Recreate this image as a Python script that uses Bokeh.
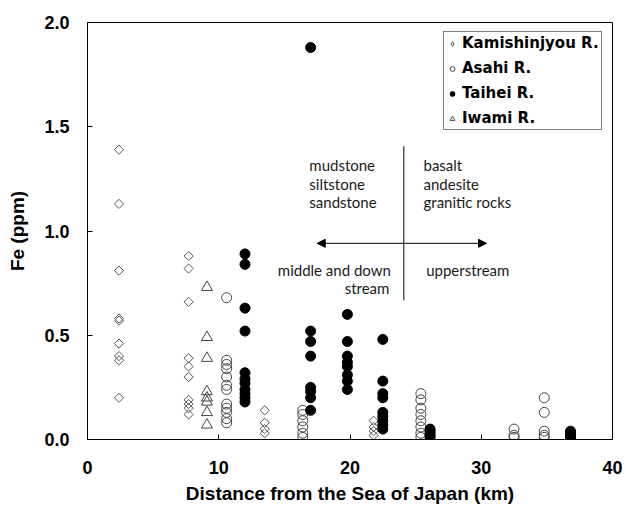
from bokeh.plotting import figure
from bokeh.models import Range1d, FixedTicker, NumeralTickFormatter, Legend, LegendItem, Arrow, NormalHead
from bokeh.core.properties import value
from bokeh.embed import file_html
from bokeh.resources import INLINE
import math

# ---- data ----
kami_x = [2.4, 2.4, 2.4, 2.4, 2.4, 2.4, 2.4, 2.4, 2.4,
          7.7, 7.7, 7.7, 7.7, 7.7, 7.7, 7.7, 7.7, 7.7, 7.7,
          13.5, 13.5, 13.5, 13.5,
          21.8, 21.8, 21.8, 21.8]
kami_y = [1.39, 1.13, 0.81, 0.58, 0.57, 0.46, 0.40, 0.38, 0.20,
          0.88, 0.82, 0.66, 0.39, 0.35, 0.30, 0.19, 0.17, 0.15, 0.12,
          0.14, 0.08, 0.05, 0.03,
          0.09, 0.06, 0.04, 0.02]

asahi_x = [10.6, 10.6, 10.6, 10.6, 10.6, 10.6, 10.6, 10.6, 10.6, 10.6, 10.6, 10.6,
           16.4, 16.4, 16.4, 16.4, 16.4, 16.4,
           25.4, 25.4, 25.4, 25.4, 25.4, 25.4, 25.4, 25.4,
           32.5, 32.5, 32.5,
           34.8, 34.8, 34.8, 34.8, 34.8]
asahi_y = [0.68, 0.38, 0.36, 0.34, 0.30, 0.26, 0.24, 0.17, 0.15, 0.13, 0.10, 0.08,
           0.14, 0.12, 0.09, 0.06, 0.03, 0.01,
           0.22, 0.19, 0.15, 0.12, 0.09, 0.06, 0.03, 0.01,
           0.05, 0.02, 0.01,
           0.20, 0.13, 0.04, 0.02, 0.01]

taihei_x = [12.0, 12.0, 12.0, 12.0, 12.0, 12.0, 12.0, 12.0, 12.0, 12.0, 12.0,
            17.0,
            17.0, 17.0, 17.0, 17.0, 17.0, 17.0, 17.0,
            19.8, 19.8, 19.8, 19.8, 19.8, 19.8, 19.8, 19.8,
            22.5, 22.5, 22.5, 22.5, 22.5, 22.5, 22.5, 22.5, 22.5,
            26.1, 26.1, 26.1, 26.1, 26.1,
            36.8, 36.8, 36.8, 36.8, 36.8]
taihei_y = [0.89, 0.84, 0.63, 0.52, 0.32, 0.29, 0.27, 0.24, 0.22, 0.20, 0.18,
            1.88,
            0.52, 0.47, 0.40, 0.25, 0.23, 0.20, 0.14,
            0.60, 0.47, 0.40, 0.37, 0.35, 0.31, 0.28, 0.24,
            0.48, 0.28, 0.22, 0.20, 0.13, 0.11, 0.09, 0.07, 0.05,
            0.05, 0.04, 0.03, 0.02, 0.01,
            0.04, 0.03, 0.02, 0.01, 0.00]

iwami_x = [9.1, 9.1, 9.1, 9.1, 9.1, 9.1, 9.1, 9.1]
iwami_y = [0.73, 0.49, 0.39, 0.23, 0.20, 0.18, 0.13, 0.07]

x_ticks = [0, 10, 20, 30, 40]
y_ticks = [0, 0.5, 1.0, 1.5, 2.0]

# annotation texts and anchors (data units)
left_rock_text = ["mudstone", "siltstone", "sandstone"]
left_rock_x = [16.9, 16.9, 16.9]
left_rock_y = [1.315, 1.225, 1.137]
right_rock_text = ["basalt", "andesite", "granitic rocks"]
right_rock_x = [25.6, 25.6, 25.6]
right_rock_y = [1.315, 1.225, 1.137]
divider_x = 24.1
divider_y = (0.667, 1.407)
arrow_y = 0.941
arrow_x = (17.5, 30.4)

p = figure(width=622, height=506, output_backend="svg", toolbar_location=None,
           x_range=Range1d(0, 40), y_range=Range1d(0, 2),
           min_border_left=87, min_border_right=10, min_border_top=22, min_border_bottom=67,
           background_fill_color="white", border_fill_color="white")
p.grid.visible = False
p.outline_line_color = "black"
p.outline_line_width = 1

for ax in (p.xaxis[0], p.yaxis[0]):
    ax.axis_line_color = "black"
    ax.major_tick_line_color = "black"
    ax.major_tick_in = 5
    ax.major_tick_out = 0
    ax.minor_tick_line_color = None
    ax.major_label_text_font = "Liberation Sans"
    ax.major_label_text_font_style = "bold"
    ax.major_label_text_font_size = "18px"
    ax.major_label_text_color = "black"
    ax.axis_label_text_font = "Liberation Sans"
    ax.axis_label_text_font_style = "bold"
    ax.axis_label_text_font_size = "19px"
    ax.axis_label_text_color = "black"

p.xaxis.ticker = FixedTicker(ticks=x_ticks)
p.yaxis.ticker = FixedTicker(ticks=y_ticks)
p.yaxis.formatter = NumeralTickFormatter(format="0.0")
p.xaxis.axis_label = "Distance from the Sea of Japan (km)"
p.yaxis.axis_label = "Fe (ppm)"
p.xaxis.major_label_standoff = 21
p.xaxis.axis_label_standoff = 6
p.yaxis.major_label_standoff = 18
p.yaxis.axis_label_standoff = 13

r_k = p.scatter(kami_x, kami_y, marker="square", size=6.5, angle=math.pi / 4,
                fill_color=None, line_color="#555555", line_width=1)
r_a = p.scatter(asahi_x, asahi_y, marker="circle", size=10,
                fill_color=None, line_color="#444444", line_width=1)
r_t = p.scatter(taihei_x, taihei_y, marker="circle", size=10,
                fill_color="black", line_color="black", line_width=1)
r_i = p.scatter(iwami_x, iwami_y, marker="triangle", size=11,
                fill_color=None, line_color="#444444", line_width=1)
# legend-only glyph for the diamond symbol (nothing visible in the plot)
r_k_leg = p.scatter([math.nan], [math.nan], marker="diamond", size=10,
                    fill_color=None, line_color="#555555", line_width=1)

# annotations
p.segment(x0=[divider_x], y0=[divider_y[0]], x1=[divider_x], y1=[divider_y[1]],
          line_color="black", line_width=1)
p.add_layout(Arrow(start=NormalHead(size=8, fill_color="black", line_color="black"),
                   end=NormalHead(size=8, fill_color="black", line_color="black"),
                   x_start=arrow_x[0], y_start=arrow_y, x_end=arrow_x[1], y_end=arrow_y,
                   line_color="black", line_width=1))

tfont = value("Lato")
tcol = "#1a1a1a"
p.text(left_rock_x, left_rock_y, text=left_rock_text, text_font=tfont, text_font_size="15px",
       text_baseline="middle", text_align="left", text_color=tcol)
p.text(right_rock_x, right_rock_y, text=right_rock_text, text_font=tfont, text_font_size="15px",
       text_baseline="middle", text_align="left", text_color=tcol)
p.text([14.5], [0.812], text=["middle and down"], text_font=tfont, text_font_size="15px",
       text_baseline="middle", text_align="left", text_color=tcol)
p.text([23.0], [0.725], text=["stream"], text_font=tfont, text_font_size="15px",
       text_baseline="middle", text_align="right", text_color=tcol)
p.text([25.8], [0.814], text=["upperstream"], text_font=tfont, text_font_size="15px",
       text_baseline="middle", text_align="left", text_color=tcol)

legend = Legend(items=[
    LegendItem(label="Kamishinjyou R.", renderers=[r_k_leg]),
    LegendItem(label="Asahi R.", renderers=[r_a]),
    LegendItem(label="Taihei R.", renderers=[r_t]),
    LegendItem(label="Iwami R.", renderers=[r_i]),
], location=(356, 309))
legend.border_line_color = "black"
legend.border_line_width = 1
legend.background_fill_alpha = 1
legend.label_text_font = "DejaVu Sans"
legend.label_text_font_style = "bold"
legend.label_text_font_size = "15px"
legend.label_text_color = "black"
legend.glyph_width = 12
legend.glyph_height = 17
legend.label_height = 17
legend.label_standoff = 4
legend.spacing = 7
legend.padding = 2
legend.margin = 0
p.add_layout(legend, "center")

open("out.html", "w").write(file_html(p, INLINE))
